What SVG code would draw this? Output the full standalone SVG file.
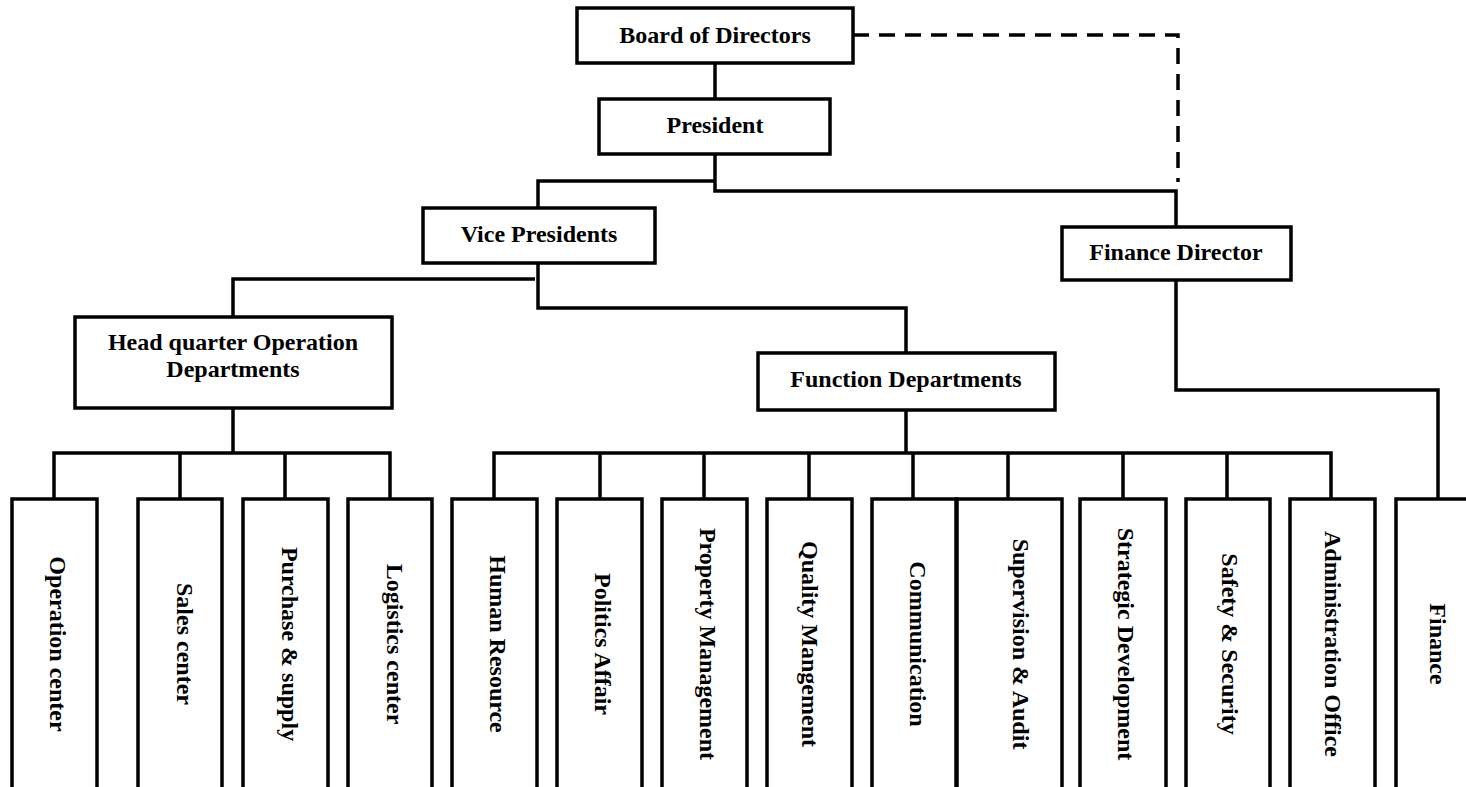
<svg xmlns="http://www.w3.org/2000/svg" width="1466" height="787" viewBox="0 0 1466 787">
<style>
.box{fill:#fff;stroke:#000;stroke-width:3.5}
.ln{fill:none;stroke:#000;stroke-width:3.5}
.dash{fill:none;stroke:#000;stroke-width:3.5;stroke-dasharray:16 10}
.t{font-family:"Liberation Serif","Times New Roman",serif;font-weight:bold;font-size:24px;fill:#000;text-anchor:middle}
</style>
<rect width="1466" height="787" fill="#fff"/>
<g id="connectors">
<path class="dash" d="M853,35 H1178 V182"/>
<path class="ln" d="M715,63 V99"/>
<path class="ln" d="M715,154 V191 H1176 V227"/>
<path class="ln" d="M715,181 H538 V208"/>
<path class="ln" d="M538,263 V308 H906 V353"/>
<path class="ln" d="M535,279 H233 V317"/>
<path class="ln" d="M233,408 V453"/>
<path class="ln" d="M54,499 V453 H390 V499 M180,453 V499 M285,453 V499"/>
<path class="ln" d="M906,410 V453"/>
<path class="ln" d="M494,499 V453 H1331 V499 M600,453 V499 M704,453 V499 M809,453 V499 M913,453 V499 M1008,453 V499 M1123,453 V499 M1227,453 V499"/>
<path class="ln" d="M1176,280 V390 H1438 V499"/>
</g>
<g id="board"><rect class="box" x="577" y="8" width="276" height="55"/><text class="t" x="715" y="43">Board of Directors</text></g>
<g id="president"><rect class="box" x="599" y="99" width="231" height="55"/><text class="t" x="715" y="133">President</text></g>
<g id="vice-presidents"><rect class="box" x="423" y="208" width="232" height="55"/><text class="t" x="539" y="242">Vice Presidents</text></g>
<g id="finance-director"><rect class="box" x="1062" y="227" width="229" height="53"/><text class="t" x="1176" y="260">Finance Director</text></g>
<g id="hq-operation"><rect class="box" x="75" y="317" width="317" height="91"/><text class="t" x="233" y="350">Head quarter Operation</text><text class="t" x="233" y="377">Departments</text></g>
<g id="function-departments"><rect class="box" x="758" y="353" width="297" height="57"/><text class="t" x="906" y="387">Function Departments</text></g>
<g id="operation-center"><rect class="box" x="12" y="499" width="85" height="320"/><text class="t" transform="translate(50,644) rotate(90)">Operation center</text></g>
<g id="sales-center"><rect class="box" x="138" y="499" width="84" height="320"/><text class="t" transform="translate(177,644) rotate(90)">Sales center</text></g>
<g id="purchase-supply"><rect class="box" x="243" y="499" width="85" height="320"/><text class="t" transform="translate(282,644) rotate(90)">Purchase &amp; supply</text></g>
<g id="logistics-center"><rect class="box" x="348" y="499" width="84" height="320"/><text class="t" transform="translate(387,644) rotate(90)">Logistics center</text></g>
<g id="human-resource"><rect class="box" x="452" y="499" width="85" height="320"/><text class="t" transform="translate(490,644) rotate(90)">Human Resource</text></g>
<g id="politics-affair"><rect class="box" x="557" y="499" width="85" height="320"/><text class="t" transform="translate(595,644) rotate(90)">Politics Affair</text></g>
<g id="property-management"><rect class="box" x="662" y="499" width="85" height="320"/><text class="t" transform="translate(700,644) rotate(90)">Property Management</text></g>
<g id="quality-management"><rect class="box" x="767" y="499" width="85" height="320"/><text class="t" transform="translate(802,644) rotate(90)">Quality Mangement</text></g>
<g id="communication"><rect class="box" x="872" y="499" width="84" height="320"/><text class="t" transform="translate(910,644) rotate(90)">Communication</text></g>
<g id="supervision-audit"><rect class="box" x="957" y="499" width="105" height="320"/><text class="t" transform="translate(1013,644) rotate(90)">Supervision &amp; Audit</text></g>
<g id="strategic-development"><rect class="box" x="1080" y="499" width="86" height="320"/><text class="t" transform="translate(1118,644) rotate(90)">Strategic Development</text></g>
<g id="safety-security"><rect class="box" x="1186" y="499" width="84" height="320"/><text class="t" transform="translate(1222,644) rotate(90)">Safety &amp; Security</text></g>
<g id="administration-office"><rect class="box" x="1290" y="499" width="85" height="320"/><text class="t" transform="translate(1325,644) rotate(90)">Administration Office</text></g>
<g id="finance"><rect class="box" x="1396" y="499" width="85" height="320"/><text class="t" transform="translate(1430,644) rotate(90)">Finance</text></g>
</svg>
